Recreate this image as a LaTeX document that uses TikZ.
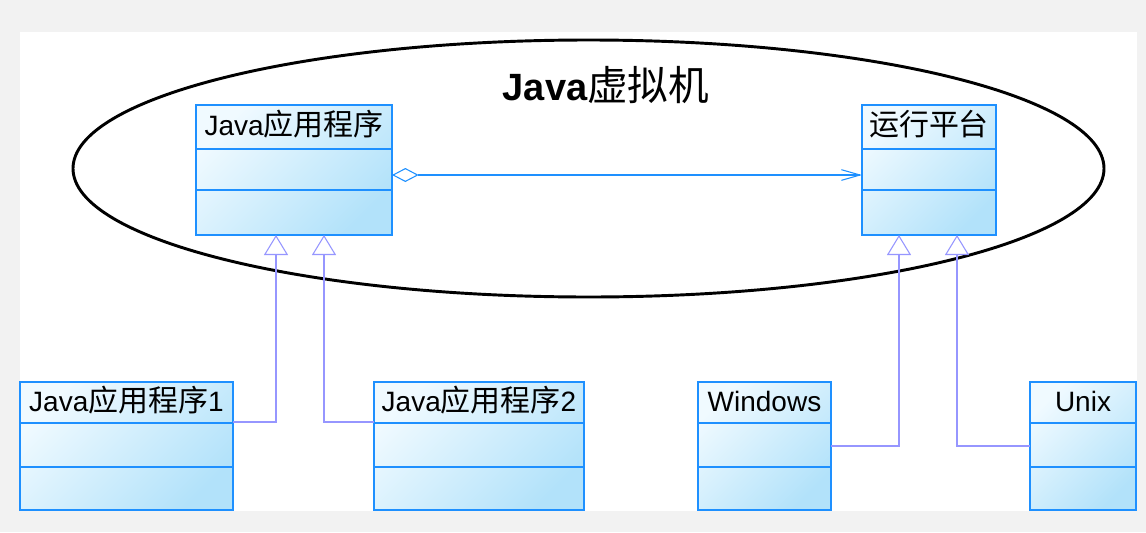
\documentclass[tikz,border=0pt]{standalone}
\usepackage{fontspec}
\setmainfont{Liberation Sans}
\newfontfamily\cjk{Noto Sans CJK SC}[Scale=1.07]
\usetikzlibrary{arrows.meta,calc,shapes.geometric}
\definecolor{bord}{RGB}{30,144,255}
\definecolor{genc}{RGB}{150,150,255}
\definecolor{fillA}{RGB}{240,250,255}
\definecolor{fillB}{RGB}{178,226,250}
\definecolor{bgc}{RGB}{242,242,242}
\tikzset{
 cls/.style={draw=bord, line width=1pt, top color=fillA, bottom color=fillB, shading angle=45, rectangle, inner sep=0pt, outer sep=0pt},
 upcls/.style={cls, minimum height=97.5pt},
 lowcls/.style={cls, minimum height=96pt},
 hdr/.style={anchor=base, font=\fontsize{21}{24}\selectfont, inner sep=0pt},
 divl/.style={draw=bord, line width=1pt},
 gen/.style={draw=genc, line width=0.8pt, -{Triangle[open, length=15pt, width=18pt]}},
 agg/.style={draw=bord, line width=0.8pt, {Diamond[open, length=20pt, width=10.5pt]}-{Straight Barb[length=14pt, width=8pt]}},
 vm/.style={draw=black, ellipse, line width=2.2pt, inner sep=0pt, outer sep=0pt},
}
\begin{document}
\begin{tikzpicture}[x=0.75pt,y=-0.75pt]
\fill[bgc] (0,0) rectangle (1146,532);
\fill[white] (20,32) rectangle (1137,511);
\useasboundingbox (0,0) rectangle (1146,532);
% virtual machine ellipse
\node[vm, minimum width=773.25pt, minimum height=192.75pt] (jvm) at (588.5,168.5) {};
\node[anchor=base, inner sep=0pt, font=\fontsize{28.5}{32}\selectfont\bfseries] (title) at (606,100) {Java{\mdseries\cjk 虚拟机}};
% upper classes
\node[upcls, minimum width=147pt] (app) at (294,170) {};
\node[hdr] (apptext) at ($(app.north)+(0,30)$) {Java{\cjk 应用程序}};
\draw[divl] ($(app.north west)+(0,44)$) -- ($(app.north east)+(0,44)$);
\draw[divl] ($(app.north west)+(0,85)$) -- ($(app.north east)+(0,85)$);
\node[upcls, minimum width=100.5pt] (plat) at (929,170) {};
\node[hdr] (plattext) at ($(plat.north)+(0,30)$) {{\cjk 运行平台}};
\draw[divl] ($(plat.north west)+(0,44)$) -- ($(plat.north east)+(0,44)$);
\draw[divl] ($(plat.north west)+(0,85)$) -- ($(plat.north east)+(0,85)$);
% lower classes
\node[lowcls, minimum width=159.75pt] (app1) at (126.5,446) {};
\node[hdr] (app1text) at ($(app1.north)+(0,29)$) {Java{\cjk 应用程序}1};
\node[lowcls, minimum width=157.5pt] (app2) at (479,446) {};
\node[hdr] (app2text) at ($(app2.north)+(0,29)$) {Java{\cjk 应用程序}2};
\node[lowcls, minimum width=99.75pt] (win) at (764.5,446) {};
\node[hdr] (wintext) at ($(win.north)+(0,29)$) {Windows};
\node[lowcls, minimum width=79.5pt] (unix) at (1083,446) {};
\node[hdr] (unixtext) at ($(unix.north)+(0,29)$) {Unix};
\foreach \b in {app1,app2,win,unix}{
  \draw[divl] ($(\b.north west)+(0,41)$) -- ($(\b.north east)+(0,41)$);
  \draw[divl] ($(\b.north west)+(0,85)$) -- ($(\b.north east)+(0,85)$);
}
% connectors
\draw[agg] ($(app.east)+(0,5)$) -- ($(plat.west)+(0,5)$);
\draw[gen] ($(app1.north east)+(0,40)$) -| ($(app.south west)+(80,0)$);
\draw[gen] ($(app2.north west)+(0,40)$) -| ($(app.south west)+(128,0)$);
\draw[gen] (win.east) -| ($(plat.south west)+(37,0)$);
\draw[gen] (unix.west) -| ($(plat.south west)+(95,0)$);
\end{tikzpicture}
\end{document}
